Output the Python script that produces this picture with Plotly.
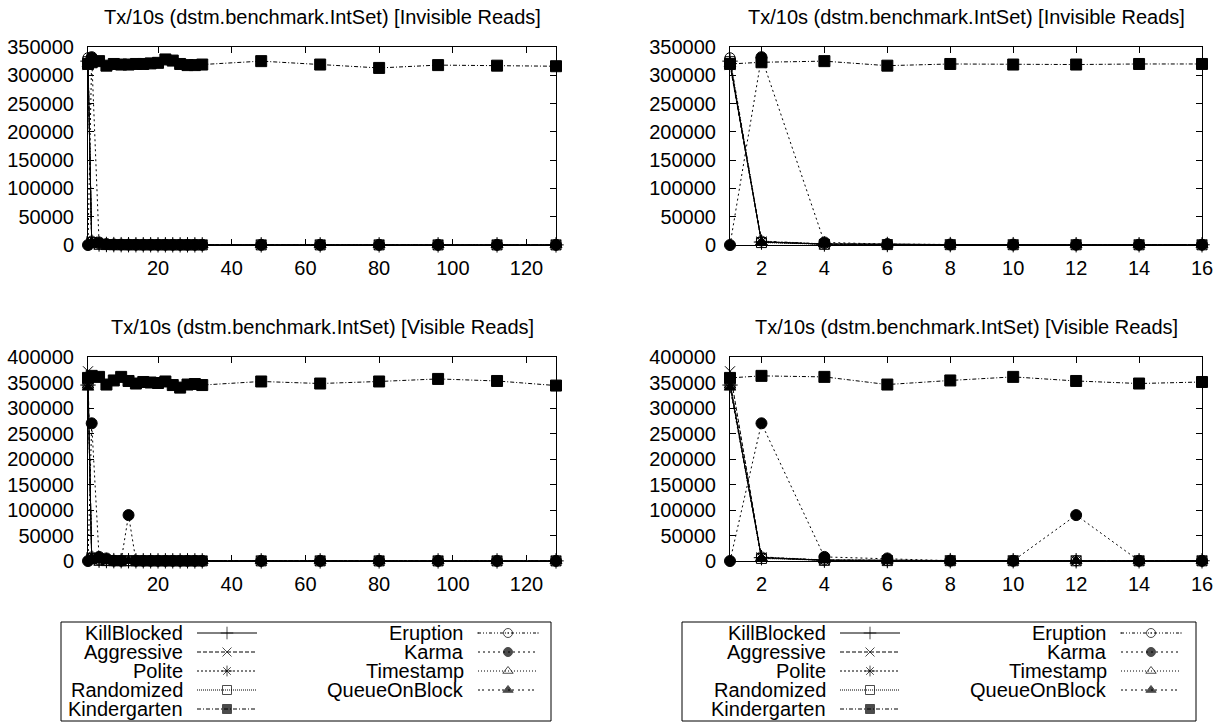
import plotly.graph_objects as go

# ---------------- data ----------------
threads = [1, 2, 4, 6, 8, 10, 12, 14, 16, 18, 20, 22, 24, 26, 28, 30, 32, 48, 64, 80, 96, 112, 128]

series_names = ["KillBlocked", "Aggressive", "Polite", "Randomized", "Kindergarten",
                "Eruption", "Karma", "Timestamp", "QueueOnBlock"]

# Invisible reads (Tx/10s)
inv_killblocked = [325000, 5200, 1800, 900, 700, 600, 500, 450, 400, 420, 380, 350, 360, 340, 330, 310, 300, 280, 260, 250, 240, 230, 220]
inv_aggressive = [318000, 6100, 1500, 800, 650, 520, 480, 430, 390, 370, 360, 340, 330, 320, 300, 290, 280, 260, 250, 240, 230, 220, 210]
inv_polite = [322000, 5600, 1400, 750, 600, 500, 460, 420, 380, 360, 350, 330, 320, 310, 300, 290, 280, 260, 240, 230, 220, 210, 200]
inv_randomized = [324000, 4300, 1200, 700, 560, 480, 440, 400, 370, 350, 330, 320, 310, 300, 290, 280, 270, 250, 240, 230, 220, 210, 200]
inv_kindergarten = [320000, 323000, 325000, 317000, 320000, 319000, 319000, 320000, 320000, 321000, 322000, 328000, 326000, 320000, 318000, 318000, 319000, 325000, 319000, 313000, 318000, 317000, 316000]
inv_eruption = [331000, 7000, 2000, 1000, 800, 650, 560, 500, 460, 430, 400, 380, 360, 350, 340, 330, 320, 300, 280, 270, 260, 250, 240]
inv_karma = [0, 332000, 4500, 1600, 900, 700, 600, 550, 500, 470, 450, 420, 400, 390, 380, 370, 360, 340, 320, 300, 290, 280, 270]
inv_timestamp = [320000, 5000, 1300, 700, 580, 500, 450, 410, 380, 360, 340, 330, 320, 310, 300, 290, 280, 260, 250, 240, 230, 220, 210]
inv_queueonblock = [321000, 5400, 1600, 800, 620, 520, 470, 430, 400, 380, 360, 340, 330, 320, 310, 300, 290, 270, 250, 240, 230, 220, 210]

# Visible reads (Tx/10s)
vis_killblocked = [345000, 6500, 1700, 900, 700, 600, 520, 470, 430, 400, 380, 360, 350, 340, 330, 320, 310, 290, 270, 260, 250, 240, 230]
vis_aggressive = [372000, 7200, 1500, 850, 680, 560, 500, 450, 410, 390, 370, 350, 340, 330, 320, 310, 300, 280, 260, 250, 240, 230, 220]
vis_polite = [350000, 6800, 1400, 800, 640, 540, 480, 440, 400, 380, 360, 340, 330, 320, 310, 300, 290, 270, 250, 240, 230, 220, 210]
vis_randomized = [348000, 5000, 1300, 760, 600, 510, 460, 420, 390, 370, 350, 330, 320, 310, 300, 290, 280, 260, 250, 240, 230, 220, 210]
vis_kindergarten = [359000, 363000, 361000, 346000, 354000, 361000, 353000, 348000, 351000, 350000, 349000, 352000, 345000, 340000, 346000, 347000, 345000, 352000, 348000, 352000, 357000, 353000, 344000]
vis_eruption = [352000, 8000, 2000, 1000, 800, 660, 580, 520, 470, 440, 410, 390, 370, 360, 350, 340, 330, 310, 290, 280, 270, 260, 250]
vis_karma = [0, 270000, 8000, 5000, 600, 500, 90000, 450, 400, 380, 360, 340, 330, 320, 310, 300, 290, 270, 260, 250, 240, 230, 220]
vis_timestamp = [344000, 6000, 1300, 750, 600, 500, 450, 410, 380, 360, 340, 330, 320, 310, 300, 290, 280, 260, 250, 240, 230, 220, 210]
vis_queueonblock = [340000, 6200, 1500, 800, 620, 520, 470, 430, 400, 380, 360, 340, 330, 320, 310, 300, 290, 270, 250, 240, 230, 220, 210]

invisible = [inv_killblocked, inv_aggressive, inv_polite, inv_randomized, inv_kindergarten,
             inv_eruption, inv_karma, inv_timestamp, inv_queueonblock]
visible = [vis_killblocked, vis_aggressive, vis_polite, vis_randomized, vis_kindergarten,
           vis_eruption, vis_karma, vis_timestamp, vis_queueonblock]

title_invisible = "Tx/10s (dstm.benchmark.IntSet) [Invisible Reads]"
title_visible = "Tx/10s (dstm.benchmark.IntSet) [Visible Reads]"

# ---------------- styles ----------------
W, H = 1217, 724
FONT = "Liberation Sans, Arial, Helvetica, sans-serif"
FS = 20
BLACK = "#000000"

STYLE = {
    "KillBlocked": dict(dash="solid", symbol="cross-thin-open", size=11),
    "Aggressive": dict(dash="4px,2px", symbol="x-thin-open", size=10),
    "Polite": dict(dash="2px,2px", symbol="asterisk-open", size=10),
    "Randomized": dict(dash="1px,1px", symbol="square-open", size=10),
    "Kindergarten": dict(dash="4px,2px,1px,2px", symbol="square", size=11),
    "Eruption": dict(dash="3px,2px,1px,2px,1px,2px", symbol="circle-open-dot", size=10),
    "Karma": dict(dash="2px,3px", symbol="circle", size=11),
    "Timestamp": dict(dash="1px,2px", symbol="triangle-up-open", size=10),
    "QueueOnBlock": dict(dash="2px,2px,2px,4px", symbol="triangle-up", size=10),
}


def px_x(p):
    return p / W


def px_y(p):
    return 1 - p / H


# panel layout (pixel boxes)
LEFT_X = (88, 556)
RIGHT_X = (730, 1202)
TOP_Y = (47, 245)
BOT_Y = (357, 561)

panels = [
    dict(ax="", data=invisible, xbox=LEFT_X, ybox=TOP_Y, xmax=128, xt=list(range(20, 121, 20)),
         ymax=350000, title=title_invisible),
    dict(ax="2", data=invisible, xbox=RIGHT_X, ybox=TOP_Y, xmax=16, xt=list(range(2, 17, 2)),
         ymax=350000, title=title_invisible),
    dict(ax="3", data=visible, xbox=LEFT_X, ybox=BOT_Y, xmax=128, xt=list(range(20, 121, 20)),
         ymax=400000, title=title_visible),
    dict(ax="4", data=visible, xbox=RIGHT_X, ybox=BOT_Y, xmax=16, xt=list(range(2, 17, 2)),
         ymax=400000, title=title_visible),
]

fig = go.Figure()
layout = dict(
    width=W, height=H, autosize=False,
    margin=dict(l=0, r=0, t=0, b=0, autoexpand=False),
    paper_bgcolor="white", plot_bgcolor="rgba(0,0,0,0)",
    showlegend=False,
    font=dict(family=FONT, size=FS, color=BLACK),
    annotations=[], shapes=[],
)

for p in panels:
    a = p["ax"]
    xa, ya = "x" + a, "y" + a
    for name, vals in zip(series_names, p["data"]):
        st = STYLE[name]
        xs = [t for t in threads if t <= p["xmax"]]
        ys = [v for t, v in zip(threads, vals) if t <= p["xmax"]]
        fig.add_trace(go.Scatter(
            x=xs, y=ys, mode="lines+markers", name=name,
            xaxis=xa, yaxis=ya, cliponaxis=False,
            line=dict(color=BLACK, width=1, dash=st["dash"]),
            marker=dict(symbol=st["symbol"], size=st["size"], color=BLACK,
                        line=dict(color=BLACK, width=1)),
        ))
    axis_common = dict(
        showline=True, linecolor=BLACK, linewidth=1, mirror="ticks",
        ticks="inside", ticklen=6, tickcolor=BLACK, tickwidth=1,
        showgrid=False, zeroline=False, tickfont=dict(family=FONT, size=FS, color=BLACK),
        automargin=False,
    )
    layout["xaxis" + a] = dict(
        axis_common, domain=[px_x(p["xbox"][0]), px_x(p["xbox"][1])],
        range=[1, p["xmax"]], tickmode="array", tickvals=p["xt"], anchor=ya,
        ticklabelstandoff=5,
    )
    layout["yaxis" + a] = dict(
        axis_common, domain=[px_y(p["ybox"][1]), px_y(p["ybox"][0])],
        range=[0, p["ymax"]], tickmode="linear", tick0=0, dtick=50000,
        tickformat="d", anchor=xa, ticklabelstandoff=9,
    )
    layout["annotations"].append(dict(
        text=p["title"], xref="paper", yref="paper",
        x=px_x((p["xbox"][0] + p["xbox"][1]) / 2), y=px_y(p["ybox"][0] - 30),
        xanchor="center", yanchor="middle", showarrow=False,
        font=dict(family=FONT, size=FS, color=BLACK),
    ))

# ---------------- legends (drawn on a pixel-space overlay axis) ----------------
layout["xaxis5"] = dict(domain=[0, 1], range=[0, W], visible=False, fixedrange=True, anchor="y5")
layout["yaxis5"] = dict(domain=[0, 1], range=[H, 0], visible=False, fixedrange=True, anchor="x5")

# (box left, box top, box right, box bottom, content origin x)
legend_boxes = [(61, 622, 551, 721, 61), (682, 622, 1196, 721, 704)]
row_y = [633, 652, 671, 690, 709]
col_text_right = [124, 405]
col_sample = [(136, 196), (417, 477)]
left_col = series_names[:5]
right_col = series_names[5:]

for (bx0, by0, bx1, by1, ox) in legend_boxes:
    layout["shapes"].append(dict(
        type="rect", xref="paper", yref="paper",
        x0=px_x(bx0), x1=px_x(bx1), y0=px_y(by1), y1=px_y(by0),
        line=dict(color=BLACK, width=1), fillcolor="rgba(0,0,0,0)",
    ))
    for ci, col in enumerate([left_col, right_col]):
        for ri, name in enumerate(col):
            st = STYLE[name]
            ry = row_y[ri]
            sx0 = ox + col_sample[ci][0]
            sx1 = ox + col_sample[ci][1]
            layout["annotations"].append(dict(
                text=name, xref="paper", yref="paper",
                x=px_x(ox + col_text_right[ci]), y=px_y(ry),
                xanchor="right", yanchor="middle", showarrow=False,
                font=dict(family=FONT, size=FS, color=BLACK),
            ))
            fig.add_trace(go.Scatter(
                x=[sx0, (sx0 + sx1) / 2, sx1], y=[ry, ry, ry],
                mode="lines+markers", xaxis="x5", yaxis="y5",
                cliponaxis=False, hoverinfo="skip",
                line=dict(color=BLACK, width=1, dash=st["dash"]),
                marker=dict(symbol=st["symbol"], size=[0, 9, 0], color=BLACK,
                            line=dict(color=BLACK, width=1)),
            ))

fig.update_layout(**layout)
fig.write_html("out.html", config={"displayModeBar": False},
               post_script="document.body.style.margin='0px';")
